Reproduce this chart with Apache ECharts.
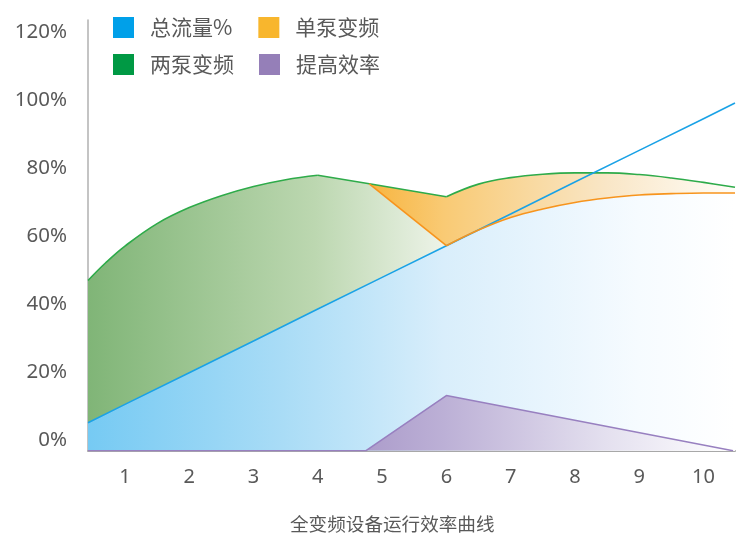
<!DOCTYPE html>
<html><head><meta charset="utf-8">
<script src="https://cdn.jsdelivr.net/npm/echarts@6/dist/echarts.min.js"></script>
<style>html,body{margin:0;padding:0;background:#fff}#c{width:746px;height:534px}</style>
</head><body><div id="c"></div>
<script>
// ---- axes ----
const xTicks = [1, 2, 3, 4, 5, 6, 7, 8, 9, 10];
const yTicks = [0, 20, 40, 60, 80, 100, 120];
const xMin = 0.425, xMax = 10.49;
const yMin = -3, yMax = 123.5;

// ---- 总流量% (straight line) ----
const flowX = [0.425, 1, 2, 3, 4, 5, 6, 7, 8, 9, 10, 10.49];
const flowY = [5.2, 10.6, 19.9, 29.2, 38.6, 47.9, 57.2, 66.5, 75.9, 85.2, 94.5, 99.1];

// ---- 两泵变频 (three pieces) ----
const twoRiseX = [0.425, 0.7, 1, 1.5, 2, 2.5, 3, 3.5, 4];
const twoRiseY = [47.0, 52.2, 57.1, 63.7, 68.4, 71.9, 74.6, 76.6, 77.9];
const twoFlatX = [4, 4.8, 6];
const twoFlatY = [77.9, 75.4, 71.6];
const twoRecX = [6, 6.5, 7, 7.5, 8, 8.5, 9, 9.5, 10, 10.49];
const twoRecY = [71.6, 75.3, 77.2, 78.2, 78.6, 78.6, 78.1, 77.1, 75.8, 74.4];

// ---- 单泵变频 (two pieces) ----
const oneDropX = [4.8, 6];
const oneDropY = [75.4, 57.2];
const oneRiseX = [6, 6.5, 7, 7.5, 8, 8.5, 9, 9.5, 10, 10.49];
const oneRiseY = [57.2, 61.8, 65.5, 68.0, 69.9, 71.2, 72.1, 72.5, 72.7, 72.7];

// ---- 提高效率 (measured from the axis bottom) ----
const gainX = [0.425, 4.75, 6, 10.46];
const gainY = [0, 0, 16.2, 0];

// ---------------------------------------------
const pts = (xs, ys) => xs.map((x, i) => [x, ys[i]]);
const join = (...lists) => {
  const out = [];
  lists.forEach(l => l.forEach(p => { if (!out.length || out[out.length - 1][0] < p[0]) out.push(p); }));
  return out;
};
const G = (stops) => ({type: 'linear', x: 88, y: 0, x2: 735, y2: 0, global: true,
  colorStops: stops.map(s => ({offset: s[0], color: s[1]}))});

const greenFill = G([[0, '#80b577'], [0.35, '#bcd7b0'], [0.55, '#edf3e8'], [1, '#ffffff']]);
const blueFill = G([[0, '#76caf3'], [0.3, '#a9dcf6'], [0.55, '#d9eefb'], [0.85, '#f6fbff'], [1, '#ffffff']]);
const orangeFill = G([[0.43, '#f7b43e'], [0.55, '#f9ca74'], [0.8, '#f9e6c6'], [1, '#fffdf8']]);
const purpleFill = G([[0.42, '#ab9bca'], [0.55, '#bcb0d6'], [0.8, '#e4e0ef'], [1, '#ffffff']]);

const CN = "'Noto Sans CJK SC', sans-serif";
const NUM = "'Noto Sans', 'Noto Sans CJK SC', sans-serif";

const base = {type: 'line', symbol: 'none', silent: true, animation: false};
function fill(data, color, smooth, extra) {
  return Object.assign({}, base, {data, smooth, lineStyle: {width: 0, opacity: 0},
    areaStyle: {color, opacity: 1, origin: 'start'}}, extra || {});
}
function line(name, data, color, smooth, extra) {
  return Object.assign({}, base, {name, data, smooth, lineStyle: {width: 1.6, color},
    itemStyle: {color}}, extra || {});
}
const SM = 0.4;
const cut = oneDropX[0];
const P = {
  flow: pts(flowX, flowY), twoRise: pts(twoRiseX, twoRiseY), twoFlat: pts(twoFlatX, twoFlatY),
  twoRec: pts(twoRecX, twoRecY), oneDrop: pts(oneDropX, oneDropY), oneRise: pts(oneRiseX, oneRiseY),
  gain: pts(gainX, gainY)
};
const flowLeft = P.flow.filter(p => p[0] <= oneRiseX[0]);
const twoFlatRight = P.twoFlat.filter(p => p[0] >= cut);
const twoFlatLeft = P.twoFlat.filter(p => p[0] <= cut);

const series = [
  // green (under-layer hides seams, then exact pieces)
  fill(join(P.twoRise, P.twoFlat, P.twoRec), greenFill, false),
  fill(P.twoRise, greenFill, SM),
  fill(P.twoFlat, greenFill, false),
  // orange band under the 两泵 line right of the cut
  fill(join(twoFlatRight, P.twoRec), orangeFill, false),
  fill(twoFlatRight, orangeFill, false),
  fill(P.twoRec, orangeFill, SM),
  // green again below the 单泵 drop
  fill(join(twoFlatLeft, P.oneDrop), greenFill, false),
  // blue under the flow line (left) and the 单泵 curve (right)
  fill(join(flowLeft, P.oneRise), blueFill, false),
  fill(flowLeft, blueFill, false),
  fill(P.oneRise, blueFill, SM),
  // purple
  fill(P.gain, purpleFill, false, {yAxisIndex: 1, areaStyle: {color: purpleFill, opacity: 1}}),
  // lines
  line('两泵变频', P.twoRise, '#2eab4a', SM),
  line('两泵变频', P.twoFlat, '#2eab4a', false),
  line('两泵变频', P.twoRec, '#2eab4a', SM),
  line('总流量%', P.flow, '#1aa2e6', false),
  line('单泵变频', P.oneDrop, '#f7941d', false),
  line('单泵变频', P.oneRise, '#f7941d', SM),
  line('提高效率', P.gain, '#9880c0', false, {yAxisIndex: 1}),
];

const legendCommon = {
  orient: 'horizontal', icon: 'rect', itemWidth: 21, itemHeight: 21,
  padding: 0, selectedMode: false, left: 113,
  textStyle: {fontSize: 21, color: '#595959', fontFamily: CN, padding: [0, 0, 0, 11]}
};

const chart = echarts.init(document.getElementById('c'), null, {renderer: 'canvas'});
chart.setOption({
  animation: false,
  backgroundColor: '#ffffff',
  grid: {left: 88, right: 11, top: 20, bottom: 83.3},
  title: {text: '全变频设备运行效率曲线', left: 290, top: 515, padding: 0,
    textStyle: {fontSize: 18.6, fontWeight: 'normal', color: '#595959', fontFamily: CN}},
  legend: [
    Object.assign({}, legendCommon, {top: 17, itemGap: 26, data: [
      {name: '总流量%', itemStyle: {color: '#00a0e9', borderWidth: 0}},
      {name: '单泵变频', itemStyle: {color: '#f8b62d', borderWidth: 0}}]}),
    Object.assign({}, legendCommon, {top: 54, itemGap: 25, data: [
      {name: '两泵变频', itemStyle: {color: '#009944', borderWidth: 0}},
      {name: '提高效率', itemStyle: {color: '#957fb8', borderWidth: 0}}]})
  ],
  xAxis: {
    type: 'value', min: xMin, max: xMax,
    axisLine: {show: true, onZero: false, lineStyle: {color: '#a8a8a8', width: 2}},
    axisTick: {show: false}, splitLine: {show: false},
    axisLabel: {customValues: xTicks, fontSize: 20, color: '#595959', margin: 17, fontFamily: NUM}
  },
  yAxis: [{
    type: 'value', min: yMin, max: yMax,
    axisLine: {show: true, onZero: false, lineStyle: {color: '#b0b0b0', width: 1.5}},
    axisTick: {show: false}, splitLine: {show: false},
    axisLabel: {customValues: yTicks, formatter: '{value}%', fontSize: 20.5, color: '#595959', margin: 21, fontFamily: NUM}
  }, {
    type: 'value', min: 0, max: yMax - yMin, show: false
  }],
  series
});
</script>
</body></html>
